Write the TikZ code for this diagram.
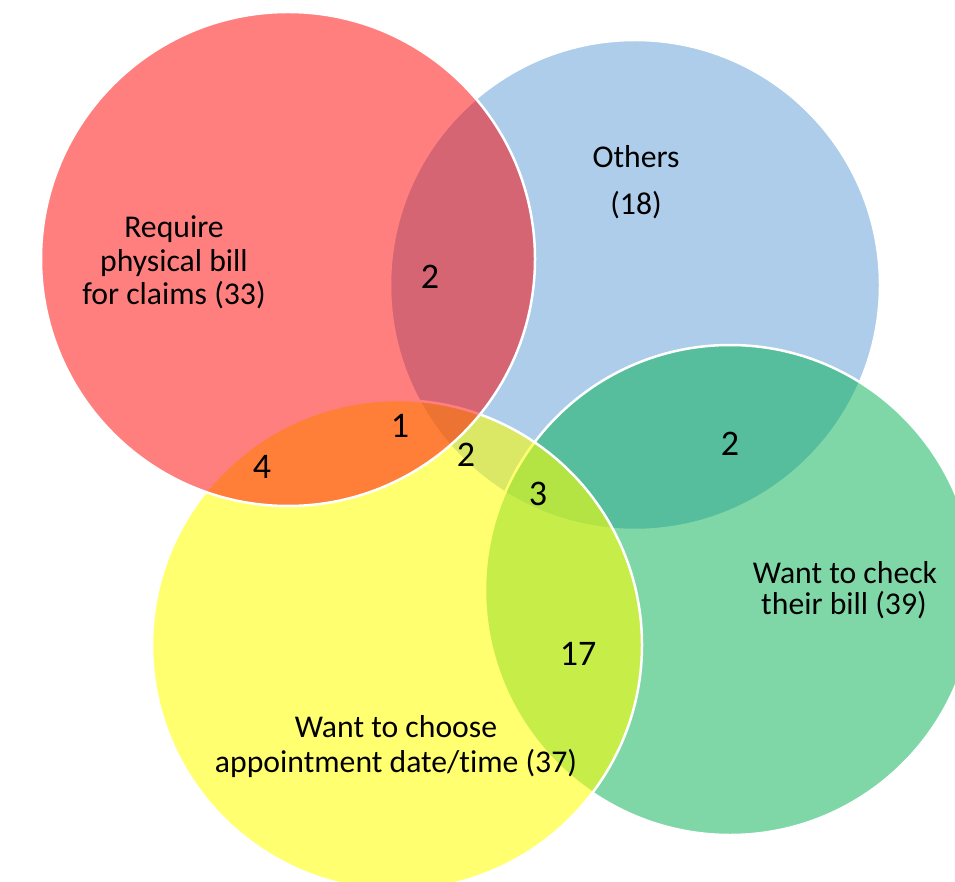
\documentclass[tikz,border=0pt]{standalone}
\usepackage{fontspec}
\setmainfont{Carlito}[Ligatures=NoCommon]
\definecolor{setblue}{RGB}{91,155,213}
\definecolor{setgreen}{RGB}{0,176,80}
\definecolor{setyellow}{RGB}{255,255,0}
\definecolor{setred}{RGB}{255,0,0}
\begin{document}
\begin{tikzpicture}[x=1pt,y=-1pt,
  vset/.style={draw=white, line width=2.5pt, fill opacity=#1},
  lbl/.style={font=\fontsize{31.7}{38}\selectfont, inner sep=0pt, anchor=base},
  num/.style={font=\fontsize{36}{43}\selectfont, inner sep=0pt, anchor=base}]
\useasboundingbox (0,0) rectangle (955,882);
\begin{scope}
\clip (0,0) rectangle (955,882);
% four sets, drawn back to front
\path[vset=0.5, fill=setblue]    (635,285) circle[radius=245pt];
\path[vset=0.5, fill=setgreen]   (730,590) circle[radius=245pt];
\path[vset=0.56, fill=setyellow] (397,645) circle[radius=245pt];
\path[vset=0.5, fill=setred]     (288,259) circle[radius=247pt];
\end{scope}

% set labels
\node[lbl] (req1) at (174,238) {Require};
\node[lbl] (req2) at (174,272) {physical bill};
\node[lbl] (req3) at (174,305) {for claims (33)};
\node[lbl] (oth1) at (636,168) {Others};
\node[lbl] (oth2) at (636,215) {(18)};
\node[lbl] (chk1) at (845,583) {Want to check};
\node[lbl] (chk2) at (844,614) {their bill (39)};
\node[lbl] (apt1) at (396,737) {Want to choose};
\node[lbl] (apt2) at (396,772) {appointment date/time (37)};

% overlap counts
\node[num] (rb)  at (430,289) {2};
\node[num] (ry1) at (400,437) {1};
\node[num] (ry2) at (262,478) {4};
\node[num] (by)  at (466,466) {2};
\node[num] (bgy) at (538,505) {3};
\node[num] (bg)  at (730,455) {2};
\node[num] (gy)  at (578,665) {17};
\end{tikzpicture}
\end{document}
